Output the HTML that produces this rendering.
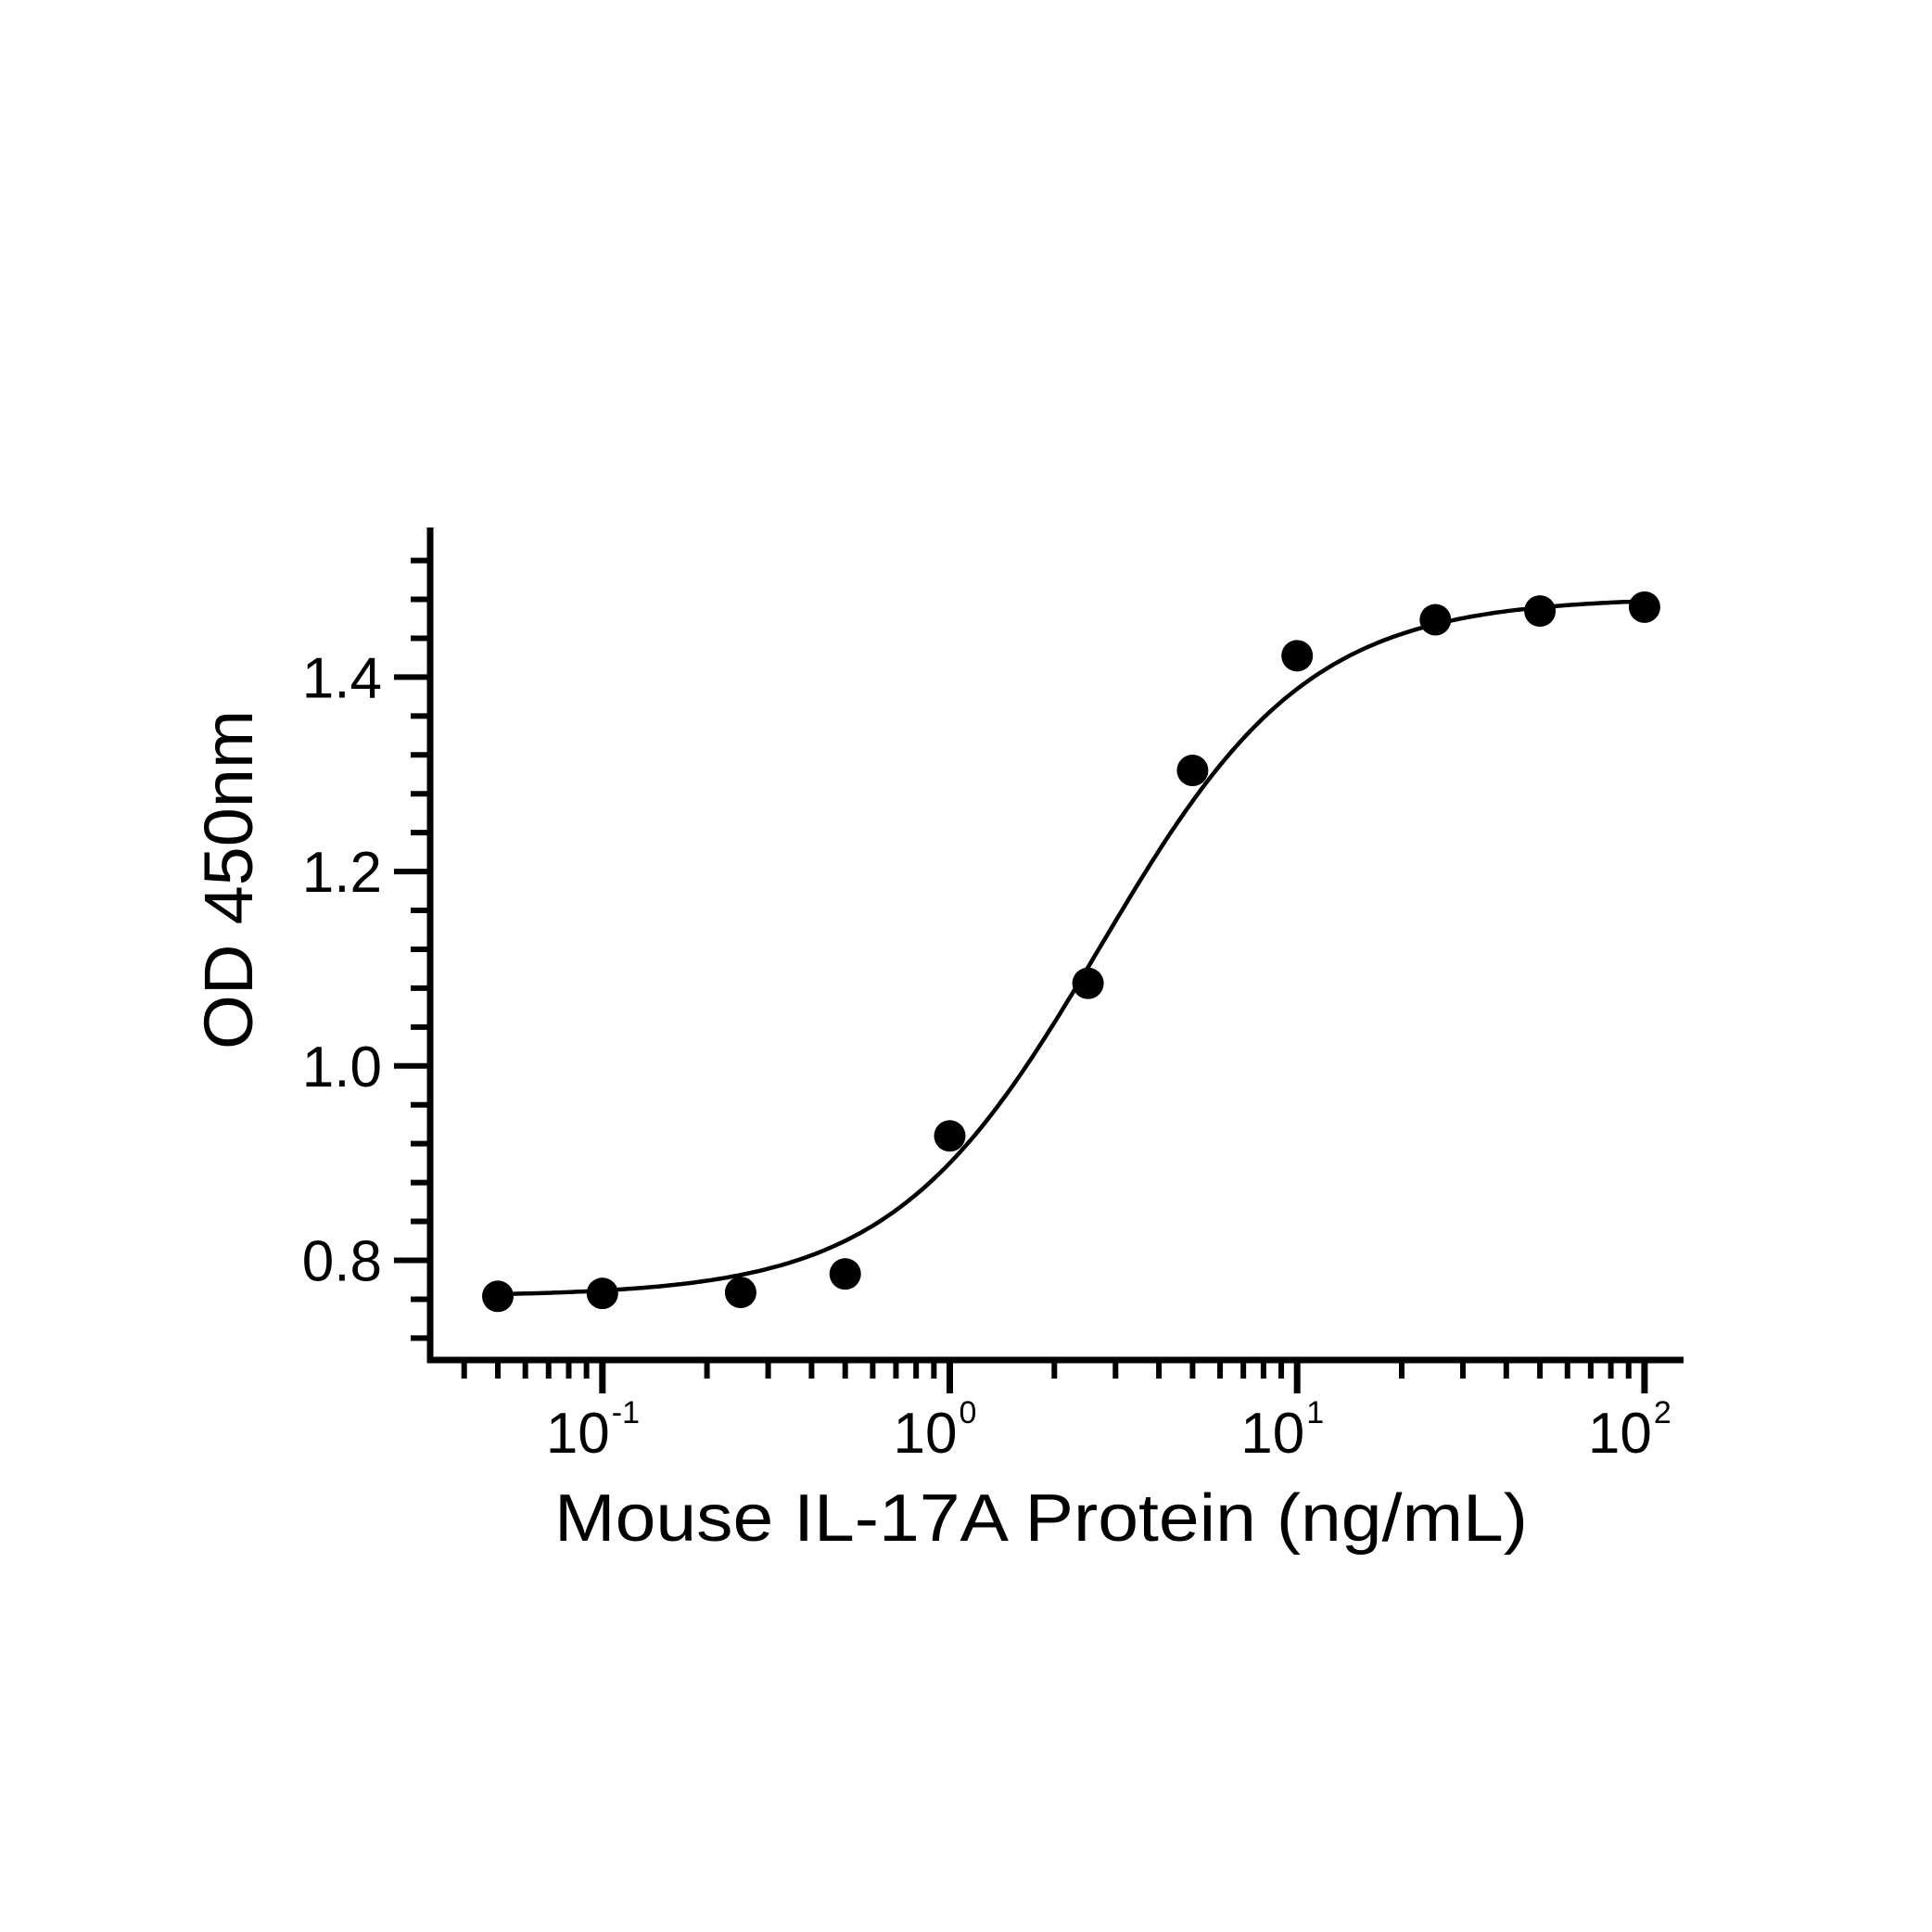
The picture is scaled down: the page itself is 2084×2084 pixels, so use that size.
<!DOCTYPE html>
<html><head><meta charset="utf-8"><style>html,body{margin:0;padding:0;background:#fff}svg{display:block}</style></head>
<body>
<svg id="chart" width="2084" height="2084" viewBox="0 0 2084 2084" xmlns="http://www.w3.org/2000/svg" font-family="'Liberation Sans', Arial, sans-serif">
<rect width="2084" height="2084" fill="#fff"/>
<g id="axes"></g>
<g id="curve"></g>
<g id="points"></g>
<text x="1123" y="1662" font-size="72" text-anchor="middle" textLength="1050" lengthAdjust="spacingAndGlyphs">Mouse IL-17A Protein (ng/mL)</text>
<text transform="translate(272,949) rotate(-90)" font-size="74" text-anchor="middle" textLength="366" lengthAdjust="spacingAndGlyphs">OD 450nm</text>
</svg>
<script>
const concentrations = [0.05, 0.1, 0.25, 0.5, 1, 2.5, 5, 10, 25, 50, 100];
const odValues = [0.763, 0.766, 0.767, 0.786, 0.928, 1.085, 1.304, 1.422, 1.459, 1.468, 1.472];
const fitParams = [0.763, 1.482, 2.71, 1.45]; // bottom, top, EC50, hill
const yTickLabels = ["0.8", "1.0", "1.2", "1.4"];
const yTickValues = [0.8, 1.0, 1.2, 1.4];
const xDecadeExps = [-1, 0, 1, 2];

const NS = "http://www.w3.org/2000/svg";
const xAxisX0 = 464, xAxisX1 = 1816, xAxisY = 1467;
const yAxisTop = 569;
function xs(v){ return 1024.5 + Math.log10(v) * 374.7; }
function ys(v){ return 1359.5 - (v - 0.8) / 0.2 * 209.7; }
function mk(tag, attrs, parent){ const el = document.createElementNS(NS, tag); for (const k in attrs) el.setAttribute(k, attrs[k]); parent.appendChild(el); return el; }

const axesG = document.getElementById('axes');
let e = mk('line', {x1:xAxisX0, y1:yAxisTop, x2:xAxisX0, y2:xAxisY+3, stroke:'#000','stroke-width':7}, axesG);


e = mk('line', {x1:xAxisX0-3, y1:xAxisY, x2:xAxisX1, y2:xAxisY, stroke:'#000','stroke-width':7}, axesG);



for (let i = 0; i <= 20; i++) {
  const v = 0.72 + i * 0.04;
  if (v > 1.53) break;
  const major = yTickValues.some(t => Math.abs(t - v) < 1e-6);
  e = mk('line', {x1: major ? 425 : 443, y1: ys(v), x2: xAxisX0, y2: ys(v), stroke:'#000','stroke-width':6}, axesG);
  
  
}
yTickLabels.forEach((lab, i) => {
  const t = mk('text', {x:412, y: ys(yTickValues[i]) + 22, 'font-size':62, 'text-anchor':'end'}, axesG);
  t.textContent = lab;
  
  
});

for (let dec = -2; dec <= 1; dec++) {
  for (let m = 1; m <= 9; m++) {
    const v = m * Math.pow(10, dec);
    if (v < 0.04 || v > 100) continue;
    e = mk('line', {x1: xs(v), y1: xAxisY, x2: xs(v), y2: 1487, stroke:'#000','stroke-width':6}, axesG);
    
    
  }
}
xDecadeExps.forEach(p => {
  const x = xs(Math.pow(10, p));
  e = mk('line', {x1:x, y1:xAxisY, x2:x, y2:1503, stroke:'#000','stroke-width':7}, axesG);
  
  
  const t = mk('text', {x: x + 8, y: 1567, 'font-size':62, 'text-anchor':'end'}, axesG);
  t.textContent = '10';
  
  
  const s = mk('text', {x: x + 10, y: 1535, 'font-size':34, 'text-anchor':'start'}, axesG);
  s.textContent = p < 0 ? '-' + Math.abs(p) : String(p);
  
  
});

const fitBottom = fitParams[0], fitTop = fitParams[1], fitEc50 = fitParams[2], fitHill = fitParams[3];
let pathD = '';
const lx0 = Math.log10(concentrations[0]), lx1 = Math.log10(concentrations[concentrations.length-1]);
for (let i = 0; i <= 300; i++) {
  const v = Math.pow(10, lx0 + (lx1 - lx0) * i / 300);
  const y = fitBottom + (fitTop - fitBottom) / (1 + Math.pow(fitEc50 / v, fitHill));
  pathD += (i ? 'L' : 'M') + xs(v).toFixed(1) + ',' + ys(y).toFixed(1);
}
e = mk('path', {d: pathD, fill:'none', stroke:'#000', 'stroke-width':4.5}, document.getElementById('curve'));



const ptsG = document.getElementById('points');
concentrations.forEach((c, i) => {
  const p = mk('circle', {cx: xs(c), cy: ys(odValues[i]), r: 17, fill:'#000'}, ptsG);
  
  
});
</script>
</body></html>
